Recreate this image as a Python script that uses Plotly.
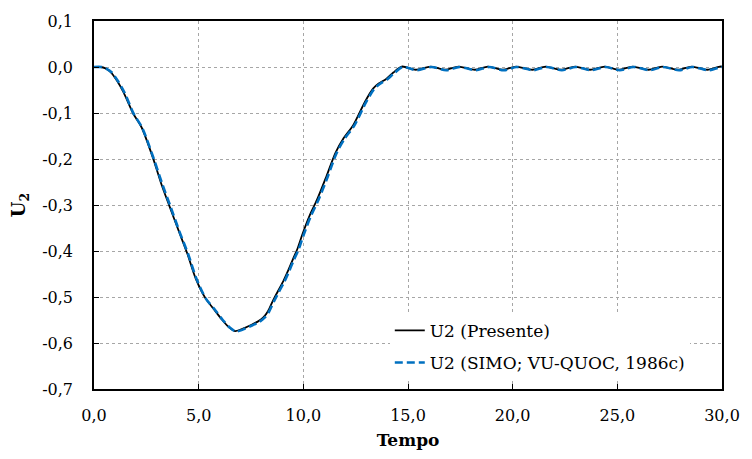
"""
Deslocamento U2 ao longo do tempo: presente vs. SIMO; VU-QUOC (1986c)
"""
import plotly.graph_objects as go

# Presente (black solid)
t_presente = [0.0, 0.3, 0.55, 0.8, 1.1, 1.4, 1.87, 2.27, 2.82, 3.2, 3.6, 4.07, 4.46,
              4.86, 5.33, 5.7, 6.11, 6.45, 6.74, 7.0, 7.21, 7.5, 7.84, 8.1, 8.31, 8.55,
              8.78, 9.05, 9.25, 9.5, 9.72, 9.96, 10.3, 10.66, 11.1, 11.53, 11.92, 12.39,
              12.94, 13.33, 13.6, 13.96, 14.3, 14.7, 15.37, 16.08, 16.78, 17.41, 18.2,
              18.82, 19.53, 20.16, 20.94, 21.57, 22.3, 22.98, 23.7, 24.4, 25.07, 25.73,
              26.5, 27.14, 27.9, 28.55, 29.3, 29.9, 30.0]
u_presente = [0.0, 0.0, -0.003, -0.011, -0.030, -0.054, -0.101, -0.131, -0.198, -0.252,
              -0.302, -0.359, -0.406, -0.460, -0.503, -0.525, -0.549, -0.566, -0.574,
              -0.571, -0.567, -0.561, -0.553, -0.544, -0.531, -0.508, -0.488, -0.465,
              -0.445, -0.418, -0.395, -0.363, -0.323, -0.288, -0.238, -0.187, -0.155,
              -0.126, -0.076, -0.047, -0.036, -0.026, -0.012, 0.001, -0.006, 0.001,
              -0.006, 0.001, -0.006, 0.001, -0.006, 0.001, -0.006, 0.001, -0.006, 0.001,
              -0.006, 0.001, -0.006, 0.001, -0.006, 0.001, -0.006, 0.001, -0.006, 0.001,
              0.001]

# SIMO; VU-QUOC, 1986c (blue dashed)
t_simo = [0.0, 0.35, 0.6, 0.85, 1.15, 1.45, 1.9, 2.3, 2.85, 3.25, 3.65, 4.1, 4.5,
          4.9, 5.35, 5.75, 6.15, 6.5, 6.78, 7.05, 7.25, 7.55, 7.9, 8.15, 8.36, 8.6,
          8.83, 9.1, 9.3, 9.55, 9.78, 10.02, 10.36, 10.72, 11.16, 11.58, 11.97, 12.44,
          12.99, 13.38, 13.65, 14.0, 14.35, 14.75, 15.42, 16.12, 16.83, 17.46, 18.24,
          18.87, 19.58, 20.2, 20.98, 21.62, 22.35, 23.02, 23.75, 24.45, 25.12, 25.78,
          26.55, 27.18, 27.95, 28.6, 29.35, 29.95, 30.0]
u_simo = [0.0, 0.0, -0.004, -0.012, -0.031, -0.055, -0.102, -0.132, -0.199, -0.253,
          -0.303, -0.360, -0.407, -0.461, -0.504, -0.526, -0.550, -0.567, -0.575,
          -0.572, -0.568, -0.562, -0.554, -0.545, -0.532, -0.509, -0.489, -0.466,
          -0.446, -0.419, -0.396, -0.364, -0.324, -0.289, -0.239, -0.188, -0.156,
          -0.127, -0.077, -0.048, -0.037, -0.027, -0.013, 0.000, -0.007, 0.000,
          -0.007, 0.000, -0.007, 0.000, -0.007, 0.000, -0.007, 0.000, -0.007, 0.000,
          -0.007, 0.000, -0.007, 0.000, -0.007, 0.000, -0.007, 0.000, -0.007, 0.000,
          0.000]

# Axis ticks (comma decimals, hyphen minus as in the original)
x_ticks = [0, 5, 10, 15, 20, 25, 30]
x_labels = ["0,0", "5,0", "10,0", "15,0", "20,0", "25,0", "30,0"]
y_ticks = [0.1, 0.0, -0.1, -0.2, -0.3, -0.4, -0.5, -0.6, -0.7]
y_labels = ["0,1", "0,0", "-0,1", "-0,2", "-0,3", "-0,4", "-0,5", "-0,6", "-0,7"]

FONT = "DejaVu Serif"

fig = go.Figure()
fig.add_trace(go.Scatter(
    x=t_presente, y=u_presente, mode="lines", name="U2 (Presente)", legendgroup="a",
    line=dict(color="black", width=1.8, shape="spline", smoothing=0.8),
))
fig.add_trace(go.Scatter(
    x=t_simo, y=u_simo, mode="lines", name="U2 (SIMO; VU-QUOC, 1986c)", legendgroup="b",
    line=dict(color="#0070C0", width=2.6, dash="8px,4px", shape="spline", smoothing=0.8),
))

axis_common = dict(
    showline=True, linecolor="black", linewidth=1.5, mirror=True,
    ticks="inside", ticklen=5, tickcolor="black", tickwidth=1,
    showgrid=True, gridcolor="#a6a6a6", griddash="dot", gridwidth=1,
    zeroline=False,
    tickfont=dict(family=FONT, size=16, color="black"),
)

fig.update_xaxes(
    range=[0, 30], tickvals=x_ticks, ticktext=x_labels, ticklabelstandoff=11,
    title=dict(text="<b>Tempo</b>", font=dict(family=FONT, size=17, color="black"), standoff=10),
    **axis_common,
)
fig.update_yaxes(
    range=[-0.7, 0.1], tickvals=y_ticks, ticktext=y_labels, ticklabelstandoff=16,
    title=dict(text="<b>U<sub>2</sub></b>", font=dict(family=FONT, size=18, color="black"), standoff=12),
    **axis_common,
)

fig.update_layout(
    width=752, height=459,
    margin=dict(l=94, r=21, t=17, b=70),
    plot_bgcolor="white", paper_bgcolor="white",
    font=dict(family=FONT, size=16, color="black"),
    showlegend=True,
    legend=dict(
        x=0.471, y=0.022, xanchor="left", yanchor="bottom",
        bgcolor="white", borderwidth=0,
        font=dict(family=FONT, size=17, color="black"),
        tracegroupgap=7,
    ),
)

fig.write_html("out.html", config={"displayModeBar": False},
               post_script="document.body.style.margin='0px';")
